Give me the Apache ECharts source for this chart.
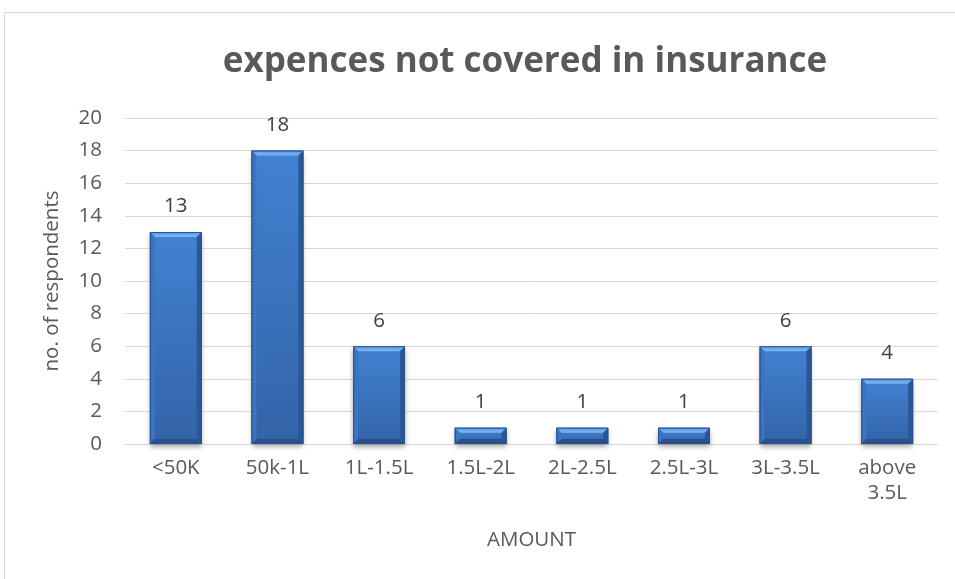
<!DOCTYPE html>
<html>
<head>
<meta charset="utf-8">
<script src="https://cdn.jsdelivr.net/npm/echarts@6/dist/echarts.min.js"></script>
<style>
  html, body { margin: 0; padding: 0; background: #fff; overflow: hidden; }
  #frame { position: absolute; left: 4px; top: 12px; width: 1040px; height: 600px; border: 1px solid #d9d9d9; box-sizing: border-box; }
  #chart { width: 955px; height: 579px; position: absolute; left: 0; top: 0; }
</style>
</head>
<body>
<div id="frame"></div>
<div id="chart"></div>
<script>
const categories = ['<50K', '50k-1L', '1L-1.5L', '1.5L-2L', '2L-2.5L', '2.5L-3L', '3L-3.5L', 'above\n3.5L'];
const respondents = [13, 18, 6, 1, 1, 1, 6, 4];
const yTicks = { min: 0, max: 20, interval: 2 };

const chart = echarts.init(document.getElementById('chart'), null, { renderer: 'canvas' });
const font = '"Open Sans", "Noto Sans", sans-serif';
const textGray = '#595959';

// Bevelled column: flat face plus four sloped edges, like an office-style 3-D bar
function renderBevelBar(params, api) {
  const x = api.value(0);
  const v = api.value(1);
  const top = api.coord([x, v]);
  const base = api.coord([x, 0]);
  const w = api.size([1, 0])[0] * 0.51;
  const l = top[0] - w / 2, r = top[0] + w / 2;
  const t = top[1], b = base[1];
  const h = b - t;
  const bev = Math.min(5, h / 3);
  const children = [
    { // soft drop shadow under the column
      type: 'rect',
      shape: { x: l, y: t, width: w, height: h },
      style: { fill: '#3a6cb0', shadowColor: 'rgba(0,0,0,0.35)', shadowBlur: 5, shadowOffsetY: 3 }
    },
    { // face
      type: 'rect',
      shape: { x: l, y: t, width: w, height: h },
      style: {
        fill: new echarts.graphic.LinearGradient(0, 0, 0, 1, [
          { offset: 0, color: '#4282d2' },
          { offset: 1, color: '#3363a8' }
        ])
      }
    },
    { // top edge
      type: 'polygon',
      shape: { points: [[l, t], [r, t], [r - bev, t + bev], [l + bev, t + bev]] },
      style: {
        fill: new echarts.graphic.LinearGradient(0, 0, 0, 1, [
          { offset: 0, color: '#5d9ae3' },
          { offset: 1, color: '#7db6f0' }
        ])
      }
    },
    { // left edge
      type: 'polygon',
      shape: { points: [[l, t], [l + bev, t + bev], [l + bev, b - bev], [l, b]] },
      style: { fill: '#3b74c0' }
    },
    { // right edge
      type: 'polygon',
      shape: { points: [[r, t], [r - bev, t + bev], [r - bev, b - bev], [r, b]] },
      style: { fill: '#2b5797' }
    },
    { // bottom edge
      type: 'polygon',
      shape: { points: [[l, b], [l + bev, b - bev], [r - bev, b - bev], [r, b]] },
      style: { fill: '#28508a' }
    },
    { // outline
      type: 'rect',
      shape: { x: l + 0.5, y: t + 0.5, width: w - 1, height: h - 1 },
      style: { fill: 'none', stroke: '#23508e', lineWidth: 1 }
    },
    { // value label
      type: 'text',
      style: {
        x: top[0], y: t - 15,
        text: String(v),
        align: 'center', verticalAlign: 'bottom',
        fontFamily: font, fontSize: 20.5, fill: '#404040'
      }
    }
  ];
  return { type: 'group', children };
}

chart.setOption({
  animation: false,
  title: {
    text: 'expences not covered in insurance',
    left: 520,
    textAlign: 'center',
    top: 40,
    textStyle: { fontFamily: font, fontSize: 35, fontWeight: 'bold', color: textGray }
  },
  grid: { left: 125, right: 17, top: 118, bottom: 135 },
  xAxis: {
    type: 'category',
    data: categories,
    name: 'AMOUNT',
    nameLocation: 'middle',
    nameGap: 86,
    nameTextStyle: { fontFamily: font, fontSize: 20.5, color: textGray },
    axisLine: { lineStyle: { color: '#d9d9d9', width: 1 } },
    axisTick: { show: false },
    axisLabel: { fontFamily: font, fontSize: 20.5, color: textGray, margin: 12, lineHeight: 25, interval: 0 }
  },
  yAxis: {
    type: 'value',
    min: yTicks.min,
    max: yTicks.max,
    interval: yTicks.interval,
    name: 'no. of respondents',
    nameLocation: 'middle',
    nameGap: 62,
    nameTextStyle: { fontFamily: font, fontSize: 20.5, color: textGray },
    axisLine: { show: false },
    axisTick: { show: false },
    axisLabel: { fontFamily: font, fontSize: 20.5, color: textGray, margin: 23 },
    splitLine: { lineStyle: { color: '#d9d9d9', width: 1 } }
  },
  series: [{
    type: 'custom',
    renderItem: renderBevelBar,
    encode: { x: 0, y: 1 },
    data: respondents.map((v, i) => [i, v])
  }]
});
</script>
</body>
</html>
